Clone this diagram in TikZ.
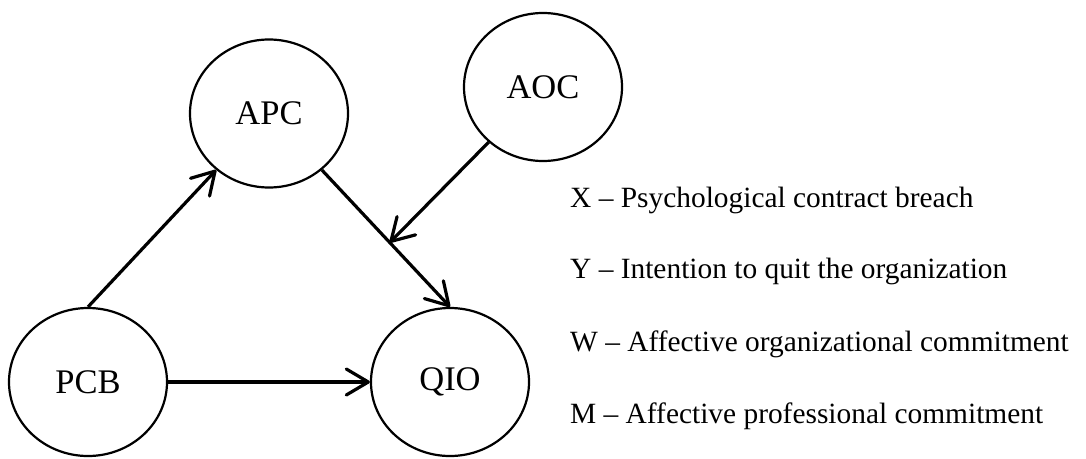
\documentclass[tikz,border=0pt]{standalone}
\usepackage{fontspec}
\setmainfont{Liberation Serif}
\usetikzlibrary{shapes.geometric,arrows.meta}
\begin{document}
\begin{tikzpicture}[x=1pt,y=-1pt,
  var/.style={ellipse,draw,line width=2.2pt,minimum width=158pt,minimum height=148pt,
    inner sep=0pt,font=\fontsize{34.5}{40}\selectfont},
  link/.style={line width=3.2pt,-{Straight Barb[length=22pt,width=26pt,round]}},
  legend/.style={anchor=base west,inner sep=0pt,font=\fontsize{29.4}{35}\selectfont}]
\useasboundingbox (0,0) rectangle (1086,458);

% variables
\node[var] (apc) at (269,113.5) {\raisebox{-2pt}{APC}};
\node[var] (aoc) at (543,87)    {\raisebox{-2pt}{AOC}};
\node[var] (pcb) at (88,382)    {\raisebox{-2pt}{PCB}};
\node[var] (qio) at (450,382)   {\raisebox{-2pt}{QIO}};

% paths
\draw[link] (pcb.north) -- (apc);
\draw[link] (apc) -- (qio.north) coordinate[pos=0.53] (hit);
\draw[link] (pcb) -- (qio);
\draw[link] (aoc) -- (hit);

% legend
\node[legend] (lx) at (570,207) {X -- Psychological contract breach};
\node[legend] (ly) at (570,278.5) {Y -- Intention to quit the organization};
\node[legend] (lw) at (570,351.5) {W -- Affective organizational commitment};
\node[legend] (lm) at (570,423) {M -- Affective professional commitment};
\end{tikzpicture}
\end{document}
